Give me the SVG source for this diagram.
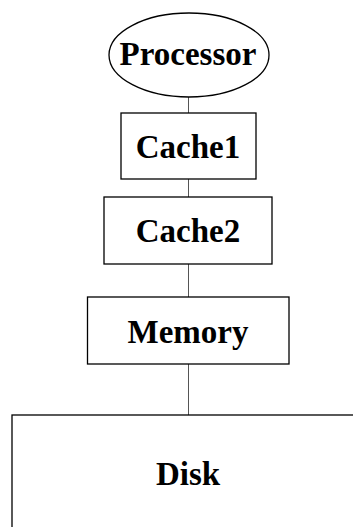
<svg xmlns="http://www.w3.org/2000/svg" width="353" height="527" viewBox="0 0 353 527">
<style>
.n{fill:#fff;stroke:#000;stroke-width:1.3}
.t{font-family:"Liberation Serif",serif;font-weight:bold;font-size:33px;text-anchor:middle;fill:#000}
.c{stroke:#555;stroke-width:1;fill:none}
</style>
<rect width="353" height="527" fill="#fff"/>
<g id="connectors">
<line class="c" x1="188.5" y1="97" x2="188.5" y2="113"/>
<line class="c" x1="188.5" y1="179" x2="188.5" y2="197"/>
<line class="c" x1="188.5" y1="264" x2="188.5" y2="297"/>
<line class="c" x1="188.5" y1="364" x2="188.5" y2="415"/>
</g>
<g id="processor">
<ellipse class="n" cx="189" cy="55" rx="80" ry="42"/>
<text class="t" x="188" y="65">Processor</text>
</g>
<g id="cache1">
<rect class="n" x="121" y="113" width="135" height="66"/>
<text class="t" x="188" y="158">Cache1</text>
</g>
<g id="cache2">
<rect class="n" x="104" y="197" width="168" height="67"/>
<text class="t" x="188" y="242">Cache2</text>
</g>
<g id="memory">
<rect class="n" x="87.5" y="297" width="201.5" height="67"/>
<text class="t" x="188" y="343">Memory</text>
</g>
<g id="disk">
<rect class="n" x="12" y="415" width="354" height="130"/>
<text class="t" x="188" y="485">Disk</text>
</g>
</svg>
